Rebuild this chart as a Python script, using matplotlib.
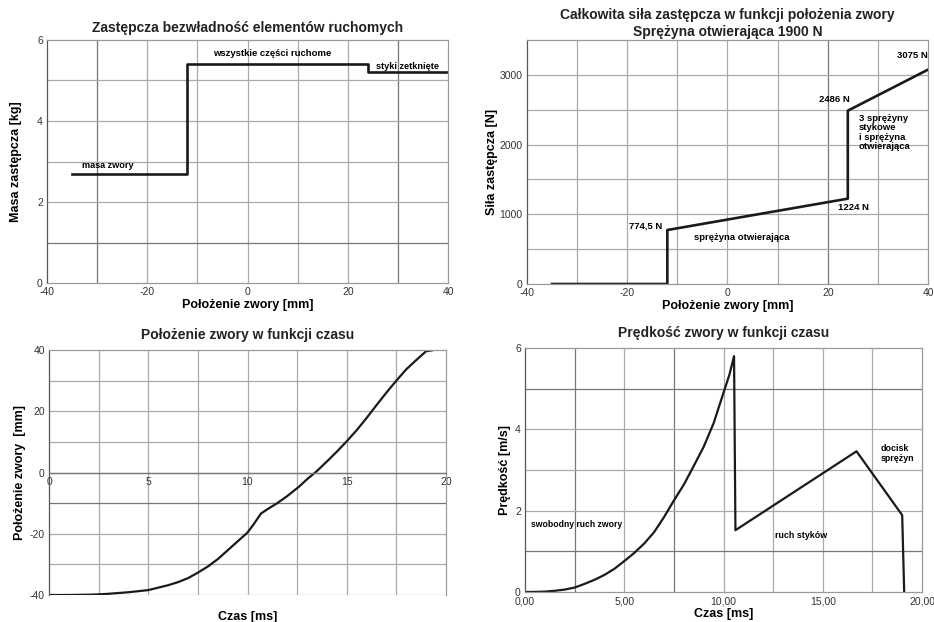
import numpy as np
import matplotlib
matplotlib.use("Agg")
from matplotlib import pyplot as plt

plt.rcParams['font.family'] = ['Liberation Sans', 'DejaVu Sans']
plt.rcParams['axes.unicode_minus'] = False

# --- data ---
# masa zastepcza vs polozenie
mass_x = [-35, -12, -12, 24, 24, 40]
mass_y = [2.7, 2.7, 5.4, 5.4, 5.2, 5.2]

# sila zastepcza vs polozenie
force_x = [-35, -12, -12, 24, 24, 40]
force_y = [0, 0, 774.5, 1224, 2486, 3075]

# polozenie zwory vs czas
pos_t = [0, 1, 2, 2.5, 3, 4, 5, 6, 6.5, 7, 7.5, 8, 8.5, 9, 9.5, 10, 10.3,
         10.68, 11, 11.5, 12, 12.6, 13, 13.5, 14, 14.5, 15, 15.5, 16, 16.5,
         17, 17.5, 18, 18.5, 19, 19.3]
pos_x = [-40, -40, -39.9, -39.8, -39.6, -39.1, -38.4, -36.8, -35.8, -34.5,
         -32.7, -30.7, -28.3, -25.4, -22.5, -19.6, -17.0, -13.4, -12, -10,
         -7.7, -4.6, -2.2, 0.5, 3.6, 6.8, 10.2, 13.8, 17.8, 22, 26.1, 30,
         33.7, 36.7, 39.6, 39.9]

# predkosc zwory vs czas
vel_t = [0, 0.5, 1, 1.5, 2, 2.5, 3, 3.5, 4, 4.5, 5, 5.5, 6, 6.5, 7, 7.5, 8,
         8.5, 9, 9.5, 10, 10.3, 10.53, 10.6, 16.7, 19.0, 19.1]
vel_v = [0, 0.003, 0.01, 0.03, 0.06, 0.11, 0.2, 0.3, 0.42, 0.57, 0.76, 0.96,
         1.19, 1.47, 1.84, 2.25, 2.64, 3.1, 3.57, 4.15, 4.9, 5.35, 5.8, 1.52,
         3.46, 1.89, 0]

LINE = '#1a1a1a'
GRID = '#aaaaaa'
DARK = '#777777'
TICK = '#333333'


def style(ax, xgrid, ygrid, dark_x=(), dark_y=()):
    for v in xgrid:
        ax.axvline(v, color=DARK if v in dark_x else GRID, lw=0.9, zorder=0)
    for v in ygrid:
        ax.axhline(v, color=DARK if v in dark_y else GRID, lw=0.9, zorder=0)
    for s in ax.spines.values():
        s.set_color('#999999')
        s.set_linewidth(0.9)
    ax.spines['left'].set_color('#555555')
    ax.tick_params(length=0, labelsize=7.5, labelcolor=TICK, pad=3)


fig = plt.figure(figsize=(9.34, 6.22), dpi=100)

# panel 1
ax1 = fig.add_axes([0.0503, 0.545, 0.4294, 0.3907])
ax1.plot(mass_x, mass_y, color=LINE, lw=1.9)
ax1.set_xlim(-40, 40)
ax1.set_ylim(0, 6)
ax1.set_xticks([-40, -20, 0, 20, 40])
ax1.set_yticks([0, 2, 4, 6])
style(ax1, range(-30, 40, 10), range(1, 6), dark_x=(-30, 30), dark_y=(1,))
ax1.set_title('Zastępcza bezwładność elementów ruchomych', fontsize=10,
              fontweight='bold', color='#222222', pad=6)
ax1.set_xlabel('Położenie zwory [mm]', fontsize=9, fontweight='bold', labelpad=1)
ax1.set_ylabel('Masa zastępcza [kg]', fontsize=9, fontweight='bold', labelpad=11)
ax1.text(-33, 2.89, 'masa zwory', fontsize=6.6, fontweight='bold', va='center')
ax1.text(4.9, 5.67, 'wszystkie części ruchome', fontsize=6.8, fontweight='bold',
         ha='center', va='center')
ax1.text(32, 5.34, 'styki zetknięte', fontsize=6.6, fontweight='bold',
         ha='center', va='center')

# panel 2
ax2 = fig.add_axes([0.5642, 0.5434, 0.4294, 0.3923])
ax2.plot(force_x, force_y, color=LINE, lw=1.9)
ax2.set_xlim(-40, 40)
ax2.set_ylim(0, 3500)
ax2.set_xticks([-40, -20, 0, 20, 40])
ax2.set_yticks([0, 1000, 2000, 3000])
style(ax2, range(-30, 40, 10), range(500, 3500, 500), dark_x=(20,))
ax2.set_title('Całkowita siła zastępcza w funkcji położenia zwory\nSprężyna otwierająca 1900 N',
              fontsize=10, fontweight='bold', color='#222222', pad=3, linespacing=1.3)
ax2.set_xlabel('Położenie zwory [mm]', fontsize=9, fontweight='bold', labelpad=1)
ax2.set_ylabel('Siła zastępcza [N]', fontsize=9, fontweight='bold', labelpad=1)
fs = 6.8
ax2.text(-16.4, 827, '774,5 N', fontsize=fs, fontweight='bold', ha='center', va='center')
ax2.text(2.8, 669, 'sprężyna otwierająca', fontsize=fs, fontweight='bold',
         ha='center', va='center')
ax2.text(25.2, 1099, '1224 N', fontsize=fs, fontweight='bold', ha='center', va='center')
ax2.text(21.4, 2642, '2486 N', fontsize=fs, fontweight='bold', ha='center', va='center')
ax2.text(26.2, 2440, '3 sprężyny\nstykowe\ni sprężyna\notwierająca', fontsize=fs,
         fontweight='bold', ha='left', va='top', linespacing=1.05)
ax2.text(36.8, 3273, '3075 N', fontsize=fs, fontweight='bold', ha='center', va='center')

# panel 3
ax3 = fig.add_axes([0.0525, 0.0434, 0.425, 0.3939])
ax3.plot(pos_t, pos_x, color=LINE, lw=1.6)
ax3.set_xlim(0, 20)
ax3.set_ylim(-40, 40)
ax3.set_xticks([0, 5, 10, 15, 20])
ax3.set_yticks([-40, -20, 0, 20, 40])
style(ax3, np.arange(2.5, 20, 2.5), range(-30, 40, 10), dark_y=(0, -10))
ax3.axhline(-40, color='#999999', lw=0.9, zorder=0)
ax3.spines['bottom'].set_position(('data', 0))
ax3.spines['bottom'].set_color(DARK)
ax3.set_title('Położenie zwory w funkcji czasu', fontsize=10, fontweight='bold',
              color='#222222', pad=8)
ax3.text(0.5, -0.09, 'Czas [ms]', transform=ax3.transAxes, fontsize=9,
         fontweight='bold', ha='center', va='center')
ax3.set_ylabel('Położenie zwory  [mm]', fontsize=9, fontweight='bold', labelpad=3)

# panel 4
ax4 = fig.add_axes([0.5621, 0.0482, 0.4251, 0.3923])
ax4.plot(vel_t, vel_v, color=LINE, lw=1.6)
ax4.set_xlim(0, 20)
ax4.set_ylim(0, 6)
ax4.set_xticks([0, 5, 10, 15, 20])
ax4.set_xticklabels(['0,00', '5,00', '10,00', '15,00', '20,00'])
ax4.set_yticks([0, 2, 4, 6])
style(ax4, np.arange(2.5, 20, 2.5), range(1, 6), dark_x=(2.5, 7.5),
      dark_y=(1, 5))
ax4.set_title('Prędkość zwory w funkcji czasu', fontsize=10, fontweight='bold',
              color='#222222', pad=8)
ax4.set_xlabel('Czas [ms]', fontsize=9, fontweight='bold', labelpad=1)
ax4.set_ylabel('Prędkość [m/s]', fontsize=9, fontweight='bold', labelpad=3)
ax4.text(2.6, 1.66, 'swobodny ruch zwory', fontsize=6.2, fontweight='bold',
         ha='center', va='center')
ax4.text(13.9, 1.4, 'ruch styków', fontsize=6.4, fontweight='bold',
         ha='center', va='center')
ax4.text(17.9, 3.4, 'docisk\nsprężyn', fontsize=6.4, fontweight='bold',
         ha='left', va='center', linespacing=1.1)

fig.savefig('out.png', dpi=100)
